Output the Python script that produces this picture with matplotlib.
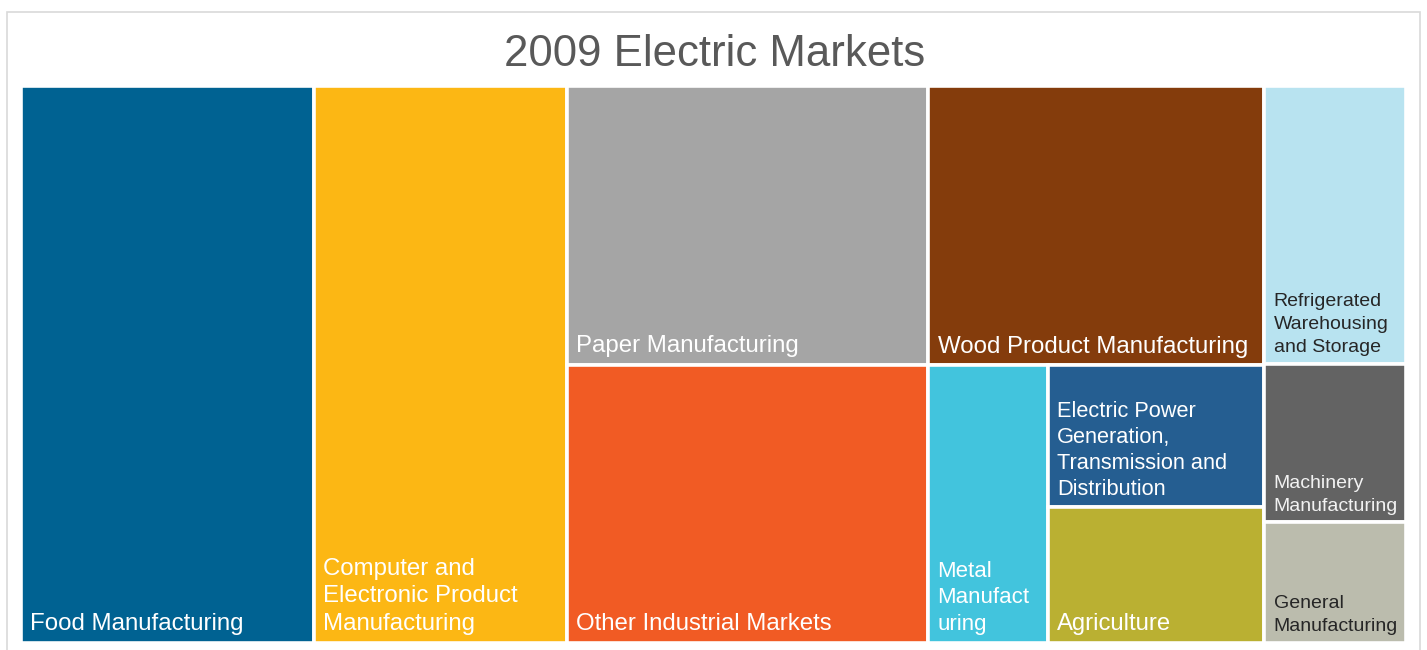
import matplotlib
matplotlib.use("Agg")
import matplotlib.pyplot as plt
from matplotlib.patches import Rectangle

plt.rcParams["font.family"] = ["Liberation Sans", "DejaVu Sans"]

# Market share of each segment (percent of total)
categories = [
    "Food Manufacturing",
    "Computer and\nElectronic Product\nManufacturing",
    "Paper Manufacturing",
    "Other Industrial Markets",
    "Wood Product Manufacturing",
    "Metal\nManufact\nuring",
    "Electric Power\nGeneration,\nTransmission and\nDistribution",
    "Agriculture",
    "Refrigerated\nWarehousing\nand Storage",
    "Machinery\nManufacturing",
    "General\nManufacturing",
]
values = [21.2, 18.3, 13.1, 13.0, 12.2, 4.3, 4.0, 3.8, 5.1, 2.9, 2.2]
colors = ["#006292", "#FCB714", "#A5A5A5", "#F15B24", "#843C0C", "#42C4DD",
          "#255E91", "#BAB032", "#B8E3F0", "#636363", "#BBBCAD"]
text_colors = ["white", "white", "white", "white", "white", "white",
               "white", "white", "#262626", "#F2F2F2", "#262626"]
font_sizes = [17.3, 17.3, 17.3, 17.3, 17.3, 16, 15.7, 17.2, 14, 14, 14]
line_spacings = [1.33, 1.33, 1.33, 1.33, 1.33, 1.34, 1.30, 1.33, 1.47, 1.47, 1.47]

# Nested slice layout: 'h' splits horizontally (columns), 'v' vertically (rows)
layout = ("h", [0, 1, ("v", [2, 3]),
                ("v", [4, ("h", [5, ("v", [6, 7])])]),
                ("v", [8, 9, 10])])


def total(node):
    if isinstance(node, int):
        return values[node]
    return sum(total(c) for c in node[1])


def place(node, x, y, w, h, out):
    if isinstance(node, int):
        out[node] = (x, y, w, h)
        return
    orient, children = node
    s = total(node)
    pos = 0.0
    for c in children:
        frac = total(c) / s
        if orient == "h":
            place(c, x + pos * w, y, frac * w, h, out)
        else:
            place(c, x, y + pos * h, w, frac * h, out)
        pos += frac


W, H = 1427, 650
fig = plt.figure(figsize=(W / 100, H / 100), dpi=100)

# light outer frame
fig.patches.append(Rectangle((6.5 / W, -0.05), 1413 / W, 1 - 11.5 / H + 0.05,
                             transform=fig.transFigure, fill=False,
                             edgecolor="#D9D9D9", linewidth=1.2))

ax = fig.add_axes([20.5 / W, (H - 642.5) / H, 1385 / W, 557 / H])
ax.set_xlim(0, 1)
ax.set_ylim(1, 0)
ax.axis("off")

rects = {}
place(layout, 0.0, 0.0, 1.0, 1.0, rects)

for i, name in enumerate(categories):
    x, y, w, h = rects[i]
    ax.add_patch(Rectangle((x, y), w, h, facecolor=colors[i],
                           edgecolor="white", linewidth=2.6))
    ax.annotate(name, xy=(x, y + h), xytext=(6.8, 5.5),
                textcoords="offset points", ha="left", va="bottom",
                fontsize=font_sizes[i], color=text_colors[i],
                linespacing=line_spacings[i])

fig.text(715 / W, 1 - 54 / H, "2009 Electric Markets", ha="center",
         va="center", fontsize=31.5, color="#595959")

fig.savefig("out.png", dpi=100, facecolor="white")
